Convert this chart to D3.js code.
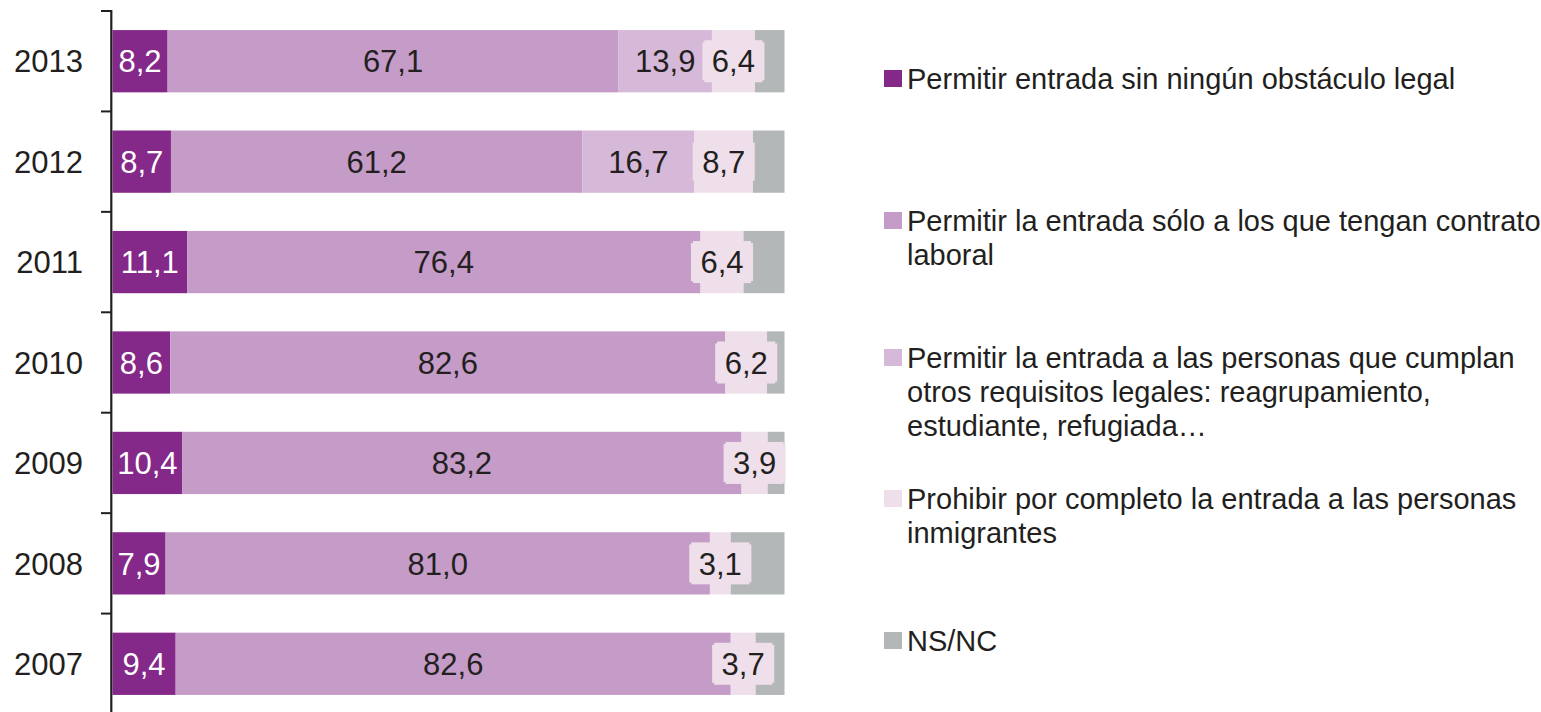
<!DOCTYPE html>
<html>
<head>
<meta charset="utf-8">
<script src="https://cdn.jsdelivr.net/npm/d3@7"></script>
<style>
  html, body { margin: 0; padding: 0; background: #ffffff; }
  svg { display: block; }
  text { font-family: "Liberation Sans", Arial, sans-serif; }
</style>
</head>
<body>
<svg id="chart" width="1541" height="712"></svg>
<script>
// ---- data ----
const years = ["2013", "2012", "2011", "2010", "2009", "2008", "2007"];
const sinObstaculo = [8.2, 8.7, 11.1, 8.6, 10.4, 7.9, 9.4];
const contratoLaboral = [67.1, 61.2, 76.4, 82.6, 83.2, 81.0, 82.6];
const otrosRequisitos = [13.9, 16.7, 0, 0, 0, 0, 0];
const prohibir = [6.4, 8.7, 6.4, 6.2, 3.9, 3.1, 3.7];
const nsnc = [4.4, 4.7, 6.1, 2.6, 2.5, 8.0, 4.3];

const seriesNames = [
  ["Permitir entrada sin ningún obstáculo legal"],
  ["Permitir la entrada sólo a los que tengan contrato", "laboral"],
  ["Permitir la entrada a las personas que cumplan", "otros requisitos legales: reagrupamiento,", "estudiante, refugiada…"],
  ["Prohibir por completo la entrada a las personas", "inmigrantes"],
  ["NS/NC"]
];
const seriesValues = [sinObstaculo, contratoLaboral, otrosRequisitos, prohibir, nsnc];
const colors = ["#84288a", "#c59bc8", "#d6b8d8", "#eedfea", "#b4b7b8"];
const textDark = "#231f20";

// ---- scales ----
const svg = d3.select("#chart");
const x = d3.scaleLinear().domain([0, 100]).range([112.5, 784.5]);
const y = d3.scaleBand().domain(years).range([11, 714]).paddingInner(0.38).paddingOuter(0.19);
const step = y.step();

const rows = years.map((yr, i) => {
  let acc = 0;
  const segs = seriesValues.map((vals, s) => {
    const seg = { year: yr, s, v: vals[i], x0: acc, x1: acc + vals[i] };
    acc += vals[i];
    return seg;
  });
  return segs;
});
const segs = rows.flat();

// ---- bars ----
svg.append("g").selectAll("rect").data(segs.filter(d => d.v > 0)).join("rect")
  .attr("x", d => x(d.x0))
  .attr("y", d => y(d.year))
  .attr("width", d => x(d.x1) - x(d.x0))
  .attr("height", y.bandwidth())
  .attr("fill", d => colors[d.s]);

const fmt = v => v.toFixed(1).replace(".", ",");
const fs = 31;

// label boxes for series 4
const boxG = svg.append("g");
const labelG = svg.append("g");
segs.filter(d => d.v > 0 && d.s < 4).forEach(d => {
  const cx = (x(d.x0) + x(d.x1)) / 2;
  const cy = y(d.year) + y.bandwidth() / 2;
  const t = labelG.append("text")
    .attr("x", cx)
    .attr("y", cy + fs * 0.36)
    .attr("text-anchor", "middle")
    .attr("font-size", fs)
    .attr("fill", d.s === 0 ? "#ffffff" : textDark)
    .text(fmt(d.v));
  if (d.s === 3) {
    const w = t.node().getComputedTextLength() + 19;
    const h = 42;
    boxG.append("rect").attr("x", cx - w / 2).attr("y", cy - h / 2 + 2)
      .attr("width", w).attr("height", h - 4).attr("fill", colors[3]);
    boxG.append("rect").attr("x", cx - w / 2 + 2).attr("y", cy - h / 2)
      .attr("width", w - 4).attr("height", h).attr("fill", colors[3]);
  }
});

// ---- axis ----
const axisG = svg.append("g");
axisG.append("line").attr("x1", 111.3).attr("x2", 111.3).attr("y1", 10).attr("y2", 712)
  .attr("stroke", textDark).attr("stroke-width", 2.2);
const tickYs = years.map(yr => y(yr) - step * 0.19).concat([y(years[years.length - 1]) + y.bandwidth() + step * 0.19]);
axisG.selectAll(".tick").data(tickYs).join("line")
  .attr("x1", 101).attr("x2", 111).attr("y1", d => d).attr("y2", d => d)
  .attr("stroke", textDark).attr("stroke-width", 2);
axisG.selectAll(".yl").data(years).join("text")
  .attr("x", 83)
  .attr("y", d => y(d) + y.bandwidth() / 2 + fs * 0.36)
  .attr("text-anchor", "end")
  .attr("font-size", fs)
  .attr("fill", textDark)
  .text(d => d);

// ---- legend ----
const legendCY = [79, 221, 358, 499, 641];
const lfs = 29;
const lineH = 34;
const lg = svg.append("g");
seriesNames.forEach((lines, s) => {
  const cy = legendCY[s];
  lg.append("rect").attr("x", 884).attr("y", cy - 9).attr("width", 18).attr("height", 17).attr("fill", colors[s]);
  const t = lg.append("text").attr("font-size", lfs).attr("fill", textDark);
  lines.forEach((ln, j) => {
    t.append("tspan").attr("x", 907).attr("y", cy + lfs * 0.36 + j * lineH).text(ln);
  });
});
</script>
</body>
</html>
